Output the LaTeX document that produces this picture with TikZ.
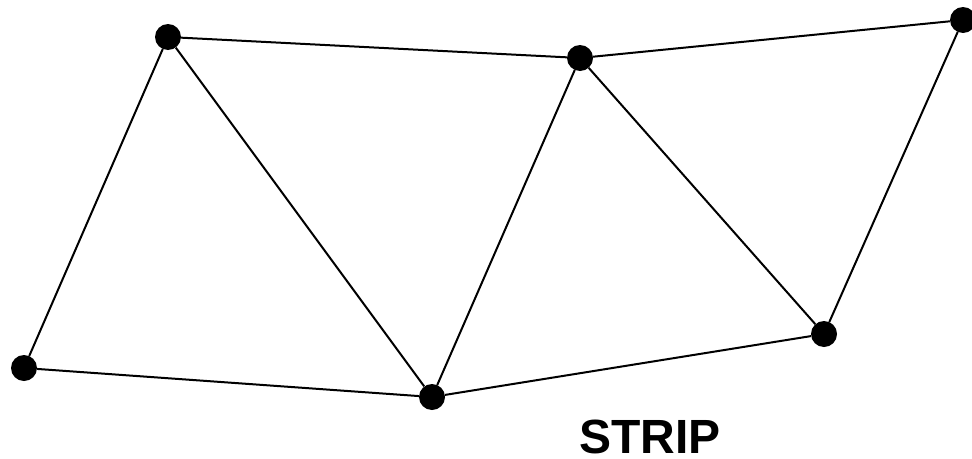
\documentclass[tikz,border=0pt]{standalone}
\usepackage{fontspec}
\setmainfont{Liberation Sans}
\usetikzlibrary{positioning}

\begin{document}
\begin{tikzpicture}[
        x=1pt, y=-1pt,
        vtx/.style={circle, fill=black, inner sep=0pt, minimum size=26pt},
        edg/.style={-, line width=2pt, black},
        lbl/.style={font=\fontsize{48}{52}\selectfont\bfseries, inner sep=0pt}
      ]
        \useasboundingbox (0,0) rectangle (972,458);
        % upper row
        \node[vtx] (a) at (168,37)  {};
        \node[vtx] (b) at (580,58)  {};
        \node[vtx] (c) at (963,20)  {};
        % lower row
        \node[vtx] (d) at (24,368)  {};
        \node[vtx] (e) at (432,397) {};
        \node[vtx] (f) at (824,334) {};
        \draw[edg] (a) -- (b);
        \draw[edg] (b) -- (c);
        \draw[edg] (d) -- (e);
        \draw[edg] (e) -- (f);
        \draw[edg] (d) -- (a);
        \draw[edg] (a) -- (e);
        \draw[edg] (e) -- (b);
        \draw[edg] (b) -- (f);
        \draw[edg] (f) -- (c);
        \node[lbl, anchor=base] (title) at (650,453) {STRIP};
      \end{tikzpicture}
\end{document}
